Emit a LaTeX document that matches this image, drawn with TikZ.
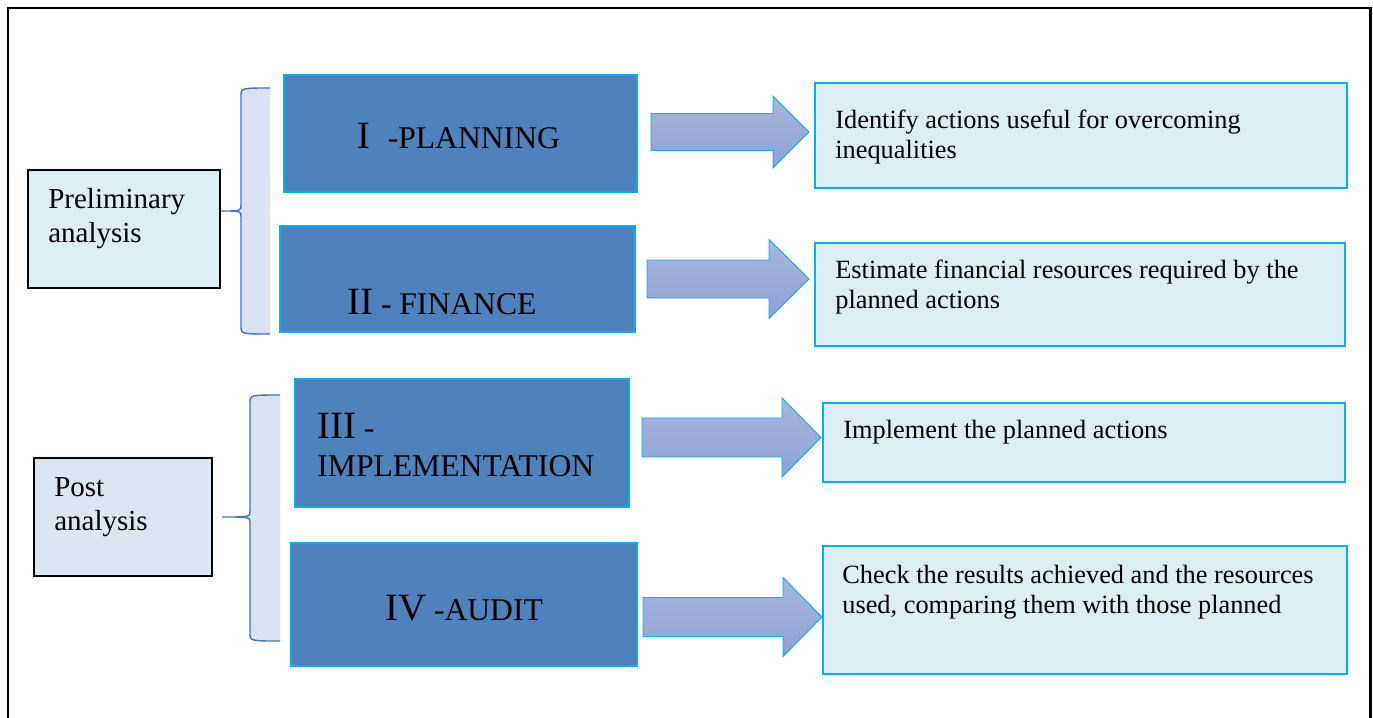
\documentclass[tikz,border=0pt]{standalone}
\usepackage{fontspec}
\setmainfont{Liberation Serif}
\usepackage{tikz}
\definecolor{stepblue}{RGB}{79, 129, 189}
\definecolor{cyanedge}{RGB}{0, 176, 240}
\definecolor{notefill}{RGB}{218, 238, 243}
\definecolor{postfill}{RGB}{220, 230, 242}
\definecolor{bracefill}{RGB}{218, 227, 243}
\definecolor{braceline}{RGB}{68, 114, 196}
\definecolor{arrowtop}{RGB}{167, 181, 222}
\definecolor{arrowbot}{RGB}{144, 161, 212}

\newcommand{\bignum}[1]{{\fontsize{22}{26}\selectfont #1}}

\begin{document}
\begin{tikzpicture}[x=0.02cm, y=-0.02cm,
  box/.style 2 args={anchor=north west, inner sep=0, outer sep=0,
    minimum width=#1*0.02cm, minimum height=#2*0.02cm},
  stepbox/.style={fill=stepblue, draw=cyanedge, line width=1.4pt},
  notebox/.style={fill=notefill, draw=cyanedge, line width=0.7pt},
  phasebox/.style={draw=black, line width=0.9pt},
  notetext/.style={anchor=base west, inner sep=0, align=left,
    font=\fontsize{15}{17}\selectfont},
  phasetext/.style={anchor=base west, inner sep=0, align=left,
    font=\fontsize{16.5}{19.3}\selectfont},
  steptext/.style={anchor=base west, inner sep=0, align=left,
    font=\fontsize{18}{21.5}\selectfont},
  fatarrow/.style={draw=cyanedge, line width=0.5pt,
    top color=arrowtop, bottom color=arrowbot}]

  \clip (0, 0) rectangle (1373, 717);

  % outer frame
  \draw[line width=1.7pt] (8, 8) rectangle (1370, 760);

  % braces grouping the steps
  \foreach \xs/\xr/\ya/\yb/\xt/\yt in {241/270/88/334/221/211,
                                       250/280/395/641/222/517} {
    \fill[bracefill] (\xr, \ya) .. controls (\xs, \ya) .. (\xs, \ya + 8)
      -- (\xs, \yt - 6) .. controls (\xs, \yt) .. (\xt, \yt)
      .. controls (\xs, \yt) .. (\xs, \yt + 6)
      -- (\xs, \yb - 8) .. controls (\xs, \yb) .. (\xr, \yb) -- cycle;
    \draw[braceline, line width=0.8pt] (\xr, \ya) .. controls (\xs, \ya) .. (\xs, \ya + 8)
      -- (\xs, \yt - 6) .. controls (\xs, \yt) .. (\xt, \yt)
      .. controls (\xs, \yt) .. (\xs, \yt + 6)
      -- (\xs, \yb - 8) .. controls (\xs, \yb) .. (\xr, \yb);
  }

  % phases (text nodes sit on the baseline of their last line)
  \node[box={192}{118}, phasebox, fill=notefill] (prelim) at (28, 170) {};
  \node[phasetext] (prelim-txt) at (48, 242) {Preliminary\\analysis};

  \node[box={178}{118}, phasebox, fill=postfill] (post) at (34, 458) {};
  \node[phasetext] (post-txt) at (54, 530) {Post\\analysis};

  % steps
  \node[box={353}{117}, stepbox] (plan) at (284, 75) {};
  \node[steptext] (plan-txt) at (357, 148) {\bignum{I}\hspace{10pt}-PLANNING};

  \node[box={355}{106}, stepbox] (fin) at (280, 226) {};
  \node[steptext] (fin-txt) at (347, 314) {\bignum{II} - FINANCE};

  \node[box={334}{128}, stepbox] (impl) at (295, 379) {};
  \node[steptext] (impl-txt) at (317, 476) {\bignum{III} -\\IMPLEMENTATION};

  \node[box={346}{123}, stepbox] (audit) at (291, 543) {};
  \node[steptext] (audit-txt) at (385, 620) {\bignum{IV} -AUDIT};

  % what each step does
  \node[box={532}{105}, notebox] (note1) at (815, 83) {};
  \node[notetext] (note1-txt) at (835, 158)
    {Identify actions useful for overcoming\\inequalities};

  \node[box={530}{103}, notebox] (note2) at (815, 243) {};
  \node[notetext] (note2-txt) at (835, 308)
    {Estimate financial resources required by the\\planned actions};

  \node[box={522}{79}, notebox] (note3) at (823, 403) {};
  \node[notetext] (note3-txt) at (843, 438) {Implement the planned actions};

  \node[box={524}{128}, notebox] (note4) at (823, 546) {};
  \node[notetext] (note4-txt) at (842, 613)
    {Check the results achieved and the resources\\used, comparing them with those planned};

  % block arrows
  \foreach \xa/\xh/\xt/\yc/\bw/\hw in {651/773/809/132/18.5/36,
                                       647/769/809/279/19/39.5,
                                       642/782/821/437.5/19.5/39.5,
                                       643/783/822/617/19.5/39.5} {
    \draw[fatarrow] (\xa, \yc - \bw) -- (\xh, \yc - \bw) -- (\xh, \yc - \hw)
      -- (\xt, \yc) -- (\xh, \yc + \hw) -- (\xh, \yc + \bw)
      -- (\xa, \yc + \bw) -- cycle;
  }

\end{tikzpicture}
\end{document}
